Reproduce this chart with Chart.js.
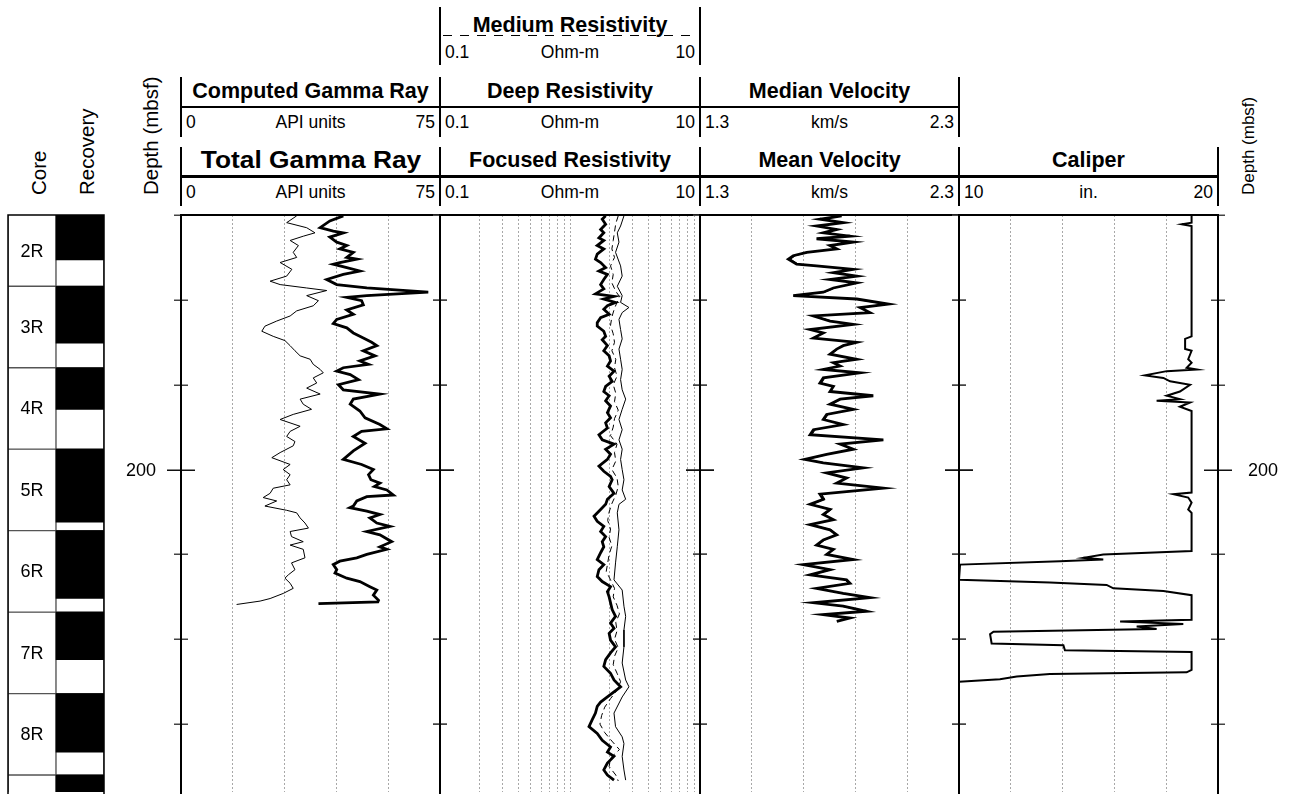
<!DOCTYPE html>
<html>
<head>
<meta charset="utf-8">
<script src="https://cdn.jsdelivr.net/npm/chart.js@4.4.1/dist/chart.umd.min.js"></script>
<style>
  html, body { margin: 0; padding: 0; background: #fff; }
  body { width: 1294px; height: 794px; position: relative; overflow: hidden;
         font-family: "Liberation Sans", Arial, sans-serif; color: #000; }
  canvas { position: absolute; }
  .t { position: absolute; white-space: nowrap; line-height: 1; }
  .r { position: absolute; background: #000; }
</style>
</head>
<body>
<script>
// ---------- depth axis (mbsf) ----------
const depthMin = 170, depthMax = 238;
const depthTicks = [170, 180, 190, 200, 210, 220, 230];
const depthLabels = [200];

// ---------- cores and recovery ----------
const coreNames     = ['2R', '3R', '4R', '5R', '6R', '7R', '8R', '9R'];
const coreTop       = [168.8, 178.4, 188.0, 197.6, 207.2, 216.8, 226.4, 236.0];
const coreBottom    = [178.4, 188.0, 197.6, 207.2, 216.8, 226.4, 236.0, 245.6];
const coreRecovered = [175.3, 185.1, 192.9, 206.2, 215.2, 222.4, 233.3, 245.6];

// ---------- track scales ----------
const gammaRange = [0, 75],   gammaGrid = [15, 30, 45, 60];
const resRange   = [0.1, 10], resGrid   = [0.2,0.3,0.4,0.5,0.6,0.7,0.8,0.9,1,2,3,4,5,6,7,8,9];
const velRange   = [1.3, 2.3], velGrid  = [1.5, 1.7, 1.9, 2.1];
const calRange   = [10, 20],  calGrid   = [12, 14, 16, 18];

// ---------- Total Gamma Ray (API) ----------
const gammaTotalDepth = [170.1,170.7,171.5,171.9,172.1,172.6,173.2,173.6,174.0,174.4,175.0,175.2,175.6,175.8,176.2,176.6,177.0,177.6,178.2,178.6,179.1,179.5,179.7,180.1,180.6,181.2,181.7,182.3,182.8,183.3,183.9,184.5,185.0,185.4,186.0,186.6,187.2,187.6,188.0,188.4,188.8,189.4,190.0,190.6,191.1,191.7,192.3,193.1,193.9,194.7,195.2,195.5,196.1,196.9,197.8,198.8,199.4,200.0,200.6,201.2,201.6,202.0,202.4,203.0,203.2,203.7,204.3,204.5,204.9,205.3,205.7,206.3,206.7,207.3,207.7,208.5,209.1,209.4,210.0,210.4,210.8,211.2,211.8,212.2,212.8,213.2,213.8,214.2,214.8,215.4,215.6,215.8];
const gammaTotalValue = [47.0,43.1,40.3,44.1,47.0,43.1,45.1,48.0,46.0,49.9,48.0,50.9,46.0,44.1,48.0,51.8,47.0,42.2,45.1,53.8,71.6,53.8,48.0,52.3,52.8,48.0,49.9,45.1,44.1,48.0,49.9,52.8,55.2,56.7,52.8,56.2,51.8,54.3,47.0,45.1,49.0,51.4,45.6,47.0,57.6,49.9,49.0,51.8,53.3,57.6,59.6,52.3,49.9,53.3,49.9,47.0,52.3,55.7,54.3,55.0,57.6,56.0,59.6,61.5,53.8,50.9,49.9,48.9,53.8,57.6,54.7,56.7,60.5,53.8,57.6,61.0,57.6,59.6,53.8,50.9,46.0,44.1,45.1,44.6,48.0,51.8,54.7,56.7,55.7,57.2,57.0,39.8];

// ---------- Computed Gamma Ray (API) ----------
const gammaCompDepth = [170.1,170.9,171.5,172.1,172.5,173.0,173.6,174.4,175.0,175.6,176.4,177.2,177.8,178.2,178.6,178.9,179.5,180.1,180.7,181.3,181.9,182.5,183.1,183.7,184.3,184.8,185.4,186.0,186.6,187.0,187.6,188.2,188.6,189.2,189.8,190.4,191.1,191.7,192.3,192.9,193.5,194.1,194.9,195.5,196.1,196.7,197.2,198.0,198.6,199.4,200.0,200.6,201.2,201.8,202.2,202.8,203.3,203.7,204.3,204.8,205.1,205.7,206.3,206.9,207.3,207.9,208.5,208.9,209.4,210.4,211.0,211.8,212.4,212.8,213.4,214.0,214.6,215.2,215.5,215.9];
const gammaCompValue = [33.5,30.6,36.4,38.8,35.4,31.6,34.0,32.5,33.5,28.7,32.1,30.6,25.8,28.7,36.4,42.2,36.4,39.8,38.3,33.5,31.6,27.7,24.3,23.4,26.7,30.1,31.6,33.0,34.5,37.4,38.3,40.3,41.2,38.3,39.3,36.4,40.3,34.5,35.4,37.8,32.5,28.7,34.5,31.6,30.6,33.0,32.5,28.7,26.3,31.6,29.6,31.6,30.6,31.6,26.7,25.8,23.8,27.7,24.3,30.6,33.5,34.5,35.9,36.9,31.6,32.0,35.4,31.6,35.4,35.9,32.0,33.0,31.1,30.1,31.6,32.5,29.6,25.8,22.9,16.1];

// ---------- Focused Resistivity (Ohm-m) ----------
const resFocDepth = [170.1,170.5,171.1,171.7,172.1,172.7,173.0,173.6,174.0,174.6,175.2,175.6,176.2,176.6,177.0,177.6,178.2,178.7,179.3,179.6,179.9,180.3,180.7,181.1,181.7,182.1,182.7,183.1,183.7,184.3,184.7,185.4,186.0,186.6,187.2,187.8,188.4,189.0,189.6,190.2,190.8,191.3,191.9,192.5,193.3,193.9,194.5,195.1,195.9,196.5,197.0,197.6,198.2,198.8,199.6,200.2,200.8,201.2,202.0,202.8,203.5,204.1,204.7,205.5,206.1,206.7,207.3,207.9,208.5,209.1,209.8,210.6,211.2,211.8,212.6,213.2,213.8,214.4,215.0,215.7,216.5,217.3,218.1,218.7,219.3,220.1,220.9,221.6,222.4,223.2,224.0,224.8,225.6,226.2,226.8,227.4,227.9,228.7,229.5,230.3,231.1,231.9,232.7,233.3,233.8,234.6,235.4,236.0,236.6];
const resFocValue = [1.88,1.77,1.88,1.72,1.82,1.67,1.82,1.62,1.82,1.62,1.57,1.72,1.88,1.67,1.94,1.82,1.72,1.82,1.57,2.18,1.82,2.24,1.94,1.82,2.00,1.72,1.62,1.62,1.82,1.88,1.77,1.94,1.82,2.00,2.05,1.94,2.18,2.00,2.11,1.88,1.82,2.00,1.88,2.05,1.94,2.05,1.88,1.94,1.67,1.77,2.18,1.88,2.05,1.94,1.67,1.82,2.05,2.11,2.00,2.18,1.94,1.88,1.72,1.53,1.62,1.82,1.72,1.88,1.77,1.82,1.72,1.62,1.82,1.67,1.62,1.77,2.05,1.94,2.00,2.05,2.11,2.24,2.05,2.18,2.00,2.05,2.24,2.05,1.88,1.82,2.05,2.18,2.45,2.18,1.94,1.72,1.62,1.57,1.48,1.40,1.62,1.77,2.05,1.94,2.18,1.94,1.82,1.94,2.18];

// ---------- Deep Resistivity (Ohm-m) ----------
const resDeepDepth = [170.1,171.3,172.1,173.2,174.4,176.0,177.2,178.4,179.5,180.3,180.9,181.5,182.3,183.5,184.6,185.8,187.0,188.2,189.4,190.6,191.7,192.9,194.1,195.3,196.5,197.6,198.8,200.0,201.2,202.4,203.5,204.1,205.1,207.1,209.1,211.0,213.0,214.2,216.1,217.3,218.9,220.9,222.8,224.8,225.6,226.8,228.7,230.3,231.5,232.3,233.8,235.4,236.6];
const resDeepValue = [2.60,2.45,2.31,2.38,2.24,2.45,2.52,2.31,2.52,2.45,2.84,2.52,2.38,2.45,2.52,2.38,2.45,2.52,2.45,2.52,2.68,2.52,2.38,2.52,2.38,2.52,2.45,2.52,2.60,2.52,2.68,2.38,2.31,2.38,2.31,2.24,2.18,2.52,2.60,2.68,2.60,2.60,2.52,2.68,2.84,2.52,2.18,2.24,2.52,2.60,2.52,2.60,2.68];

// ---------- Medium Resistivity (Ohm-m) ----------
const resMedDepth = [170.1,171,172,173,174,175,176,177,178,179,179.6,180.3,181,182,183,184,185,186,187,188,189,190,191,192,193,194,195,196,197,198,199,200,201,202,203,204,205,206,207,208,209,210,211,212,213,214,215,216,217,218,219,220,221,222,223,224,225,226,227,228,229,230,231,232,233,234,235,236,236.7];
const resMedValue = [2.35,2.25,2.20,2.15,2.10,2.20,2.05,2.15,2.10,2.25,2.40,2.30,2.20,2.10,2.05,2.15,2.20,2.10,2.25,2.20,2.30,2.15,2.25,2.20,2.35,2.20,2.15,2.05,2.30,2.20,2.25,2.10,2.30,2.35,2.25,2.10,2.00,1.95,2.05,2.00,2.10,2.00,1.95,1.90,2.05,2.20,2.15,2.30,2.40,2.25,2.30,2.20,2.35,2.20,2.15,2.30,2.45,2.30,2.05,1.85,1.75,1.70,1.85,2.10,2.40,2.05,2.00,2.25,2.35];

// ---------- Mean and Median Velocity (km/s), same depth samples ----------
const velDepth = [170.1,170.5,170.9,171.3,171.7,172.1,172.5,172.8,173.2,173.6,174.0,174.4,174.8,175.2,175.8,176.0,176.4,176.8,177.2,177.6,178.0,178.6,179.1,179.5,179.9,180.5,180.9,181.5,181.9,182.5,182.9,183.5,183.9,184.5,185.0,185.4,185.8,186.4,187.0,187.4,187.8,188.2,188.6,189.2,189.8,190.2,190.8,191.3,191.7,192.3,192.9,193.5,194.1,194.7,195.3,195.9,196.5,197.0,197.6,198.2,198.8,199.2,199.8,200.4,201.0,201.6,202.2,202.6,202.9,203.5,204.1,204.7,205.3,205.9,206.5,207.1,207.7,208.3,208.9,209.4,210.0,210.6,211.2,211.8,212.4,213.0,213.4,214.0,214.6,215.1,215.7,216.1,216.7,217.1,217.5,217.9];
const velMeanValue = [1.847,1.763,1.853,1.750,1.828,1.776,1.879,1.750,1.892,1.802,1.828,1.712,1.660,1.641,1.673,1.750,1.892,1.815,1.905,1.802,1.905,1.815,1.776,1.660,1.905,2.027,1.918,1.956,1.738,1.802,1.892,1.725,1.776,1.738,1.905,1.853,1.828,1.802,1.905,1.815,1.841,1.776,1.918,1.776,1.763,1.815,1.802,1.969,1.841,1.802,1.892,1.789,1.776,1.853,1.738,1.725,2.008,1.841,1.892,1.789,1.705,1.776,1.931,1.789,1.866,1.828,2.008,1.866,1.763,1.776,1.725,1.802,1.776,1.815,1.725,1.802,1.828,1.776,1.750,1.815,1.789,1.892,1.699,1.802,1.725,1.866,1.879,1.750,1.853,1.956,1.738,1.853,1.943,1.776,1.879,1.828];
const velMedValue = [1.840,1.770,1.845,1.758,1.822,1.782,1.870,1.758,1.884,1.808,1.822,1.718,1.668,1.650,1.680,1.745,1.885,1.820,1.898,1.808,1.898,1.820,1.782,1.670,1.897,2.010,1.925,1.948,1.745,1.808,1.885,1.732,1.770,1.745,1.898,1.848,1.832,1.808,1.898,1.820,1.836,1.782,1.910,1.782,1.770,1.810,1.808,1.960,1.846,1.808,1.885,1.795,1.782,1.846,1.745,1.732,1.998,1.846,1.885,1.795,1.712,1.782,1.922,1.795,1.860,1.832,1.998,1.860,1.770,1.782,1.732,1.808,1.782,1.810,1.732,1.808,1.822,1.782,1.757,1.810,1.795,1.885,1.706,1.808,1.732,1.860,1.872,1.757,1.846,1.948,1.745,1.846,1.935,1.782,1.872,1.832];

// ---------- Caliper (in.) ----------
const caliperDepth = [170.0,170.9,171.1,171.3,184.3,184.6,185.8,186.0,187.0,187.4,188.0,188.2,188.4,188.9,189.2,189.6,190.0,190.8,191.3,191.7,191.9,192.1,192.6,193.1,202.7,202.9,203.3,203.9,204.7,205.1,209.6,210.0,210.4,210.6,210.8,211.2,213.0,213.3,213.6,214.0,214.3,214.8,217.7,217.9,218.2,218.5,218.8,219.1,219.4,220.5,220.7,221.3,221.5,223.6,223.9,224.1,224.4,224.7,225.0];
const caliperValue = [18.98,18.98,18.60,18.98,18.98,18.73,18.73,18.98,18.85,18.98,18.79,19.18,18.02,17.18,17.89,18.15,18.92,18.53,18.02,18.53,17.63,18.92,18.53,18.98,18.98,18.28,18.85,18.98,18.85,18.98,18.98,15.57,14.80,15.57,13.90,10.04,10.0,13.51,15.70,15.96,17.89,18.98,18.98,16.22,18.66,16.86,17.63,11.33,11.20,11.26,14.03,14.09,18.98,18.98,18.79,13.51,12.23,11.58,10.0];

// ---------- header text ----------
const headerCells = [
  { row: 0, track: 1, title: 'Medium Resistivity',  unit: 'Ohm-m',     range: resRange },
  { row: 1, track: 0, title: 'Computed Gamma Ray',  unit: 'API units', range: gammaRange },
  { row: 1, track: 1, title: 'Deep Resistivity',    unit: 'Ohm-m',     range: resRange },
  { row: 1, track: 2, title: 'Median Velocity',     unit: 'km/s',      range: velRange },
  { row: 2, track: 0, title: 'Total Gamma Ray',     unit: 'API units', range: gammaRange, big: true },
  { row: 2, track: 1, title: 'Focused Resistivity', unit: 'Ohm-m',     range: resRange },
  { row: 2, track: 2, title: 'Mean Velocity',       unit: 'km/s',      range: velRange },
  { row: 2, track: 3, title: 'Caliper',             unit: 'in.',       range: calRange }
];

// ---------- layout ----------
const FONT = "'Liberation Sans', Arial, sans-serif";
const TOP = 215, BOTTOM = 792;
const trackEdges = [181, 440, 700, 959, 1218];
const headerRows = [
  { top: 7,  bottom: 65,  titleBase: 33,   ruleY: 34.5,  ruleH: 1.5, dashed: true, unitBase: 59 },
  { top: 77, bottom: 137, titleBase: 99.5, ruleY: 106,   ruleH: 1.5, unitBase: 128.5 },
  { top: 147, bottom: 206, titleBase: 168.5, ruleY: 175, ruleH: 2.5, unitBase: 198.5 }
];

function addText(str, x, baseline, size, opts = {}) {
  const d = document.createElement('div');
  d.className = 't';
  d.textContent = str;
  d.style.fontSize = size + 'px';
  if (opts.bold) d.style.fontWeight = 'bold';
  d.style.left = x + 'px';
  d.style.top = (baseline - 0.8465 * size) + 'px';
  let tf = opts.align === 'center' ? 'translateX(-50%)' : opts.align === 'right' ? 'translateX(-100%)' : '';
  if (opts.stretch) tf += ' scaleX(' + opts.stretch + ')';
  d.style.transform = tf;
  document.body.appendChild(d);
  return d;
}
function addVertical(str, cx, bottomY, size) {
  const d = document.createElement('div');
  d.className = 't';
  d.textContent = str;
  d.style.fontSize = size + 'px';
  d.style.left = cx + 'px';
  d.style.top = bottomY + 'px';
  d.style.transformOrigin = '0 0';
  d.style.transform = 'rotate(-90deg) translateY(-50%)';
  document.body.appendChild(d);
}
function addRule(x, y, w, h, dashed) {
  const d = document.createElement('div');
  d.className = 'r';
  d.style.left = x + 'px'; d.style.top = y + 'px';
  d.style.width = w + 'px'; d.style.height = h + 'px';
  if (dashed) d.style.background = 'repeating-linear-gradient(to right, #000 0 9px, transparent 9px 17px)';
  document.body.appendChild(d);
}

// column titles on the left and right
addVertical('Core', 39, 195, 20.5);
addVertical('Recovery', 87, 195, 20.5);
addVertical('Depth (mbsf)', 151, 195, 20.5);
addVertical('Depth (mbsf)', 1248, 195, 17);

// track headers
for (const c of headerCells) {
  const r = headerRows[c.row];
  const L = trackEdges[c.track], R = trackEdges[c.track + 1];
  addRule(L - 0.75, r.top, 1.5, r.bottom - r.top);
  addRule(R - 0.75, r.top, 1.5, r.bottom - r.top);
  if (r.dashed) addRule(L + 3, r.ruleY, R - L - 8, r.ruleH, true);
  else addRule(L, r.ruleY, R - L, r.ruleH);
  if (c.big) addText(c.title, (L + R) / 2, r.titleBase, 23.5, { bold: true, align: 'center', stretch: 1.12 });
  else addText(c.title, (L + R) / 2, r.titleBase, 21.5, { bold: true, align: 'center' });
  addText(String(c.range[0]), L + 5, r.unitBase, 17.5);
  addText(c.unit, (L + R) / 2, r.unitBase, 17.5, { align: 'center' });
  addText(String(c.range[1]), R - 5, r.unitBase, 17.5, { align: 'right' });
}

// ---------- charts ----------
function makeCanvas(left, top, w, h) {
  const c = document.createElement('canvas');
  c.width = w; c.height = h;
  c.style.left = left + 'px'; c.style.top = top + 'px';
  c.style.width = w + 'px'; c.style.height = h + 'px';
  document.body.appendChild(c);
  return c;
}
const pts = (depths, values) => depths.map((d, i) => ({ x: values[i], y: d }));

// frame, depth tick marks and depth labels around each track
const framePlugin = {
  id: 'frame',
  afterDraw(chart, args, opts) {
    const { ctx, chartArea: a } = chart;
    const y = chart.scales.y;
    ctx.save();
    ctx.lineWidth = 1.5;
    for (const d of depthTicks) {
      const py = Math.round(y.getPixelForValue(d)) + 0.25;
      const major = depthLabels.includes(d);
      const len = major ? 14 : 7;
      ctx.strokeStyle = major ? '#111' : '#444';
      for (const px of [a.left, a.right]) {
        ctx.beginPath(); ctx.moveTo(px - len, py); ctx.lineTo(px + len, py); ctx.stroke();
      }
      if (major && opts.labelSide) {
        ctx.fillStyle = '#000';
        ctx.font = '18px ' + FONT;
        ctx.textBaseline = 'middle';
        if (opts.labelSide === 'left') { ctx.textAlign = 'right'; ctx.fillText(String(d), a.left - 25, py + 1); }
        else { ctx.textAlign = 'left'; ctx.fillText(String(d), a.right + 30, py + 1); }
      }
    }
    ctx.strokeStyle = '#000';
    ctx.lineWidth = 2;
    ctx.beginPath();
    ctx.moveTo(a.left, a.bottom + 2); ctx.lineTo(a.left, a.top);
    ctx.lineTo(a.right, a.top); ctx.lineTo(a.right, a.bottom + 2);
    ctx.stroke();
    ctx.restore();
  }
};

function trackChart(idx, padL, padR, xScale, grid, datasets, labelSide) {
  const L = trackEdges[idx], R = trackEdges[idx + 1];
  const canvas = makeCanvas(L - padL, TOP - 2, R - L + padL + padR, BOTTOM - TOP + 4);
  return new Chart(canvas, {
    type: 'scatter',
    data: { datasets },
    options: {
      responsive: false, animation: false, devicePixelRatio: 1, events: [],
      layout: { padding: { left: padL, right: padR, top: 2, bottom: 2 } },
      plugins: { legend: { display: false }, tooltip: { enabled: false }, frame: { labelSide } },
      elements: { point: { radius: 0 }, line: { tension: 0 } },
      scales: {
        x: Object.assign({
          position: 'top',
          grid: { color: '#a8a8a8', lineWidth: 1, drawTicks: false },
          border: { display: false, dash: [2, 2] },
          ticks: { display: false },
          afterBuildTicks: s => { s.ticks = grid.map(v => ({ value: v })); }
        }, xScale),
        y: { type: 'linear', reverse: true, min: depthMin, max: depthMax, display: false }
      }
    },
    plugins: [framePlugin]
  });
}

const thick = { showLine: true, borderColor: '#000', borderWidth: 2.8, pointRadius: 0 };
const thin  = { showLine: true, borderColor: '#000', borderWidth: 1,   pointRadius: 0 };

trackChart(0, 70, 16,
  { type: 'linear', min: gammaRange[0], max: gammaRange[1] }, gammaGrid,
  [
    Object.assign({ label: 'Computed Gamma Ray', data: pts(gammaCompDepth, gammaCompValue) }, thin),
    Object.assign({ label: 'Total Gamma Ray', data: pts(gammaTotalDepth, gammaTotalValue) }, thick)
  ], 'left');

trackChart(1, 16, 16,
  { type: 'logarithmic', min: resRange[0], max: resRange[1] }, resGrid,
  [
    Object.assign({ label: 'Deep Resistivity', data: pts(resDeepDepth, resDeepValue) }, thin),
    Object.assign({ label: 'Medium Resistivity', data: pts(resMedDepth, resMedValue), borderDash: [6, 4] }, thin),
    Object.assign({ label: 'Focused Resistivity', data: pts(resFocDepth, resFocValue) }, thick)
  ], null);

trackChart(2, 16, 16,
  { type: 'linear', min: velRange[0], max: velRange[1] }, velGrid,
  [
    Object.assign({ label: 'Median Velocity', data: pts(velDepth, velMedValue) }, thin),
    Object.assign({ label: 'Mean Velocity', data: pts(velDepth, velMeanValue) }, thick)
  ], null);

trackChart(3, 16, 80,
  { type: 'linear', min: calRange[0], max: calRange[1] }, calGrid,
  [
    Object.assign({ label: 'Caliper', data: pts(caliperDepth, caliperValue) }, thick, { borderWidth: 2 })
  ], 'right');

// core boxes and recovered intervals
const corePlugin = {
  id: 'coreLabels',
  afterDraw(chart) {
    const { ctx, chartArea: a } = chart;
    const y = chart.scales.y, x = chart.scales.x;
    ctx.save();
    ctx.fillStyle = '#000';
    ctx.font = '18px ' + FONT;
    ctx.textAlign = 'center';
    ctx.textBaseline = 'middle';
    coreNames.forEach((n, i) => {
      const t = Math.max(coreTop[i], depthMin), b = Math.min(coreBottom[i], depthMax);
      const pt = y.getPixelForValue(t), pb = y.getPixelForValue(b);
      if (pb - pt > 40) ctx.fillText(n, x.getPixelForValue(0), (pt + pb) / 2 + 1);
    });
    ctx.strokeStyle = '#000';
    ctx.lineWidth = 1.5;
    ctx.beginPath();
    ctx.moveTo(a.left, a.bottom + 2); ctx.lineTo(a.left, a.top);
    ctx.lineTo(a.right, a.top); ctx.lineTo(a.right, a.bottom + 2);
    ctx.stroke();
    ctx.restore();
  }
};
const coreDatasets = [];
coreNames.forEach((n, i) => {
  coreDatasets.push({
    label: n, data: [[coreTop[i], coreBottom[i]], [coreTop[i], coreBottom[i]]],
    backgroundColor: '#fff', borderColor: '#555', borderWidth: 1, borderSkipped: false,
    grouped: false, order: 1, barPercentage: 1, categoryPercentage: 1
  });
  coreDatasets.push({
    label: n + ' recovery', data: [null, [coreTop[i], coreRecovered[i]]],
    backgroundColor: '#000', borderWidth: 0,
    grouped: false, order: 0, barPercentage: 1, categoryPercentage: 1
  });
});
new Chart(makeCanvas(6, TOP - 2, 100, BOTTOM - TOP + 4), {
  type: 'bar',
  data: { labels: ['Core', 'Recovery'], datasets: coreDatasets },
  options: {
    responsive: false, animation: false, devicePixelRatio: 1, events: [],
    layout: { padding: { left: 2, right: 2, top: 2, bottom: 2 } },
    plugins: { legend: { display: false }, tooltip: { enabled: false } },
    scales: {
      x: { type: 'category', display: false },
      y: { type: 'linear', reverse: true, min: depthMin, max: depthMax, display: false }
    }
  },
  plugins: [corePlugin]
});
</script>
</body>
</html>
